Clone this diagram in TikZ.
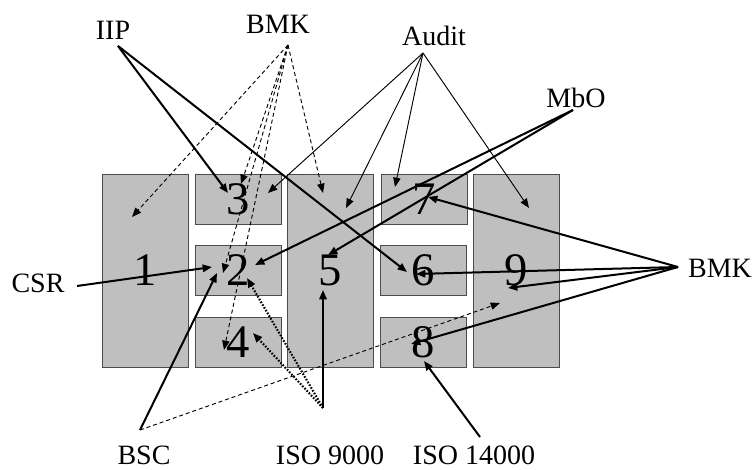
\documentclass[tikz,border=0pt]{standalone}
\usepackage{fontspec}
\setmainfont{Liberation Serif}
\usetikzlibrary{arrows.meta}
\begin{document}
\begin{tikzpicture}[
        x=0.75pt, y=-0.75pt,
        cell/.style={draw=black!70, fill=black!25, line width=0.6pt, inner sep=0pt, outer sep=0pt,
            minimum width=64.5pt, font=\fontsize{35}{40}\selectfont},
        small/.style={cell, minimum height=37.5pt},
        tall/.style={cell, minimum height=144.75pt},
        lbl/.style={inner sep=0pt, font=\fontsize{21}{25}\selectfont},
        tip/.style={-{Triangle[length=7pt, width=5.5pt]}},
        strong/.style={tip, line width=1.5pt},
        weak/.style={tip, line width=0.7pt},
        hint/.style={tip, line width=0.7pt, dash pattern=on 3pt off 2.2pt},
        dots/.style={tip, line width=1.6pt, dash pattern=on 1.2pt off 1.2pt}
    ]
    \useasboundingbox (0,0) rectangle (754,470);

    \node[tall]  (c1) at (145.5,270.5) {1};
    \node[small] (c3) at (238.5,199)   {3};
    \node[small] (c2) at (238,270)     {2};
    \node[small] (c4) at (238,342)     {4};
    \node[tall]  (c5) at (330.5,270.5) {5};
    \node[small] (c7) at (424,199)     {7};
    \node[small] (c6) at (423.5,270.5) {6};
    \node[small] (c8) at (423.5,342)   {8};
    \node[tall]  (c9) at (516,270.5)   {9};

    \node[lbl] (iip)   at (113,30)  {IIP};
    \node[lbl] (bmkup) at (278,24)  {BMK};
    \node[lbl] (audit) at (434,36)  {Audit};
    \node[lbl] (mbo)   at (576,98)  {MbO};
    \node[lbl] (csr)   at (38,283)  {CSR};
    \node[lbl] (bsc)   at (144,455) {BSC};
    \node[lbl] (isoa)  at (330,455) {ISO 9000};
    \node[lbl] (isob)  at (474,455) {ISO 14000};
    \node[lbl] (bmkrt) at (720,268) {BMK};

    \coordinate (iipo)   at (118,46);
    \coordinate (bmkupo) at (288,45);
    \coordinate (audito) at (423,53);
    \coordinate (mboo)   at (573,110);
    \coordinate (csro)   at (77,286);
    \coordinate (bsco)   at (140,430);
    \coordinate (isoao)  at (323,408);
    \coordinate (isobo)  at (480,437);
    \coordinate (bmkrto) at (678,267);

    \coordinate (in1)  at (132,217);
    \coordinate (in3a) at (228,193);
    \coordinate (in3b) at (241,184);
    \coordinate (in3c) at (268,193);
    \coordinate (in2a) at (212,267);
    \coordinate (in2b) at (217,273);
    \coordinate (in2c) at (223,273);
    \coordinate (in2d) at (255,265);
    \coordinate (in2e) at (247,278);
    \coordinate (in4a) at (224,350);
    \coordinate (in4b) at (253,333);
    \coordinate (in5a) at (323,193);
    \coordinate (in5b) at (346,208);
    \coordinate (in5c) at (328,255);
    \coordinate (in5d) at (323,290);
    \coordinate (in7a) at (395,187);
    \coordinate (in7b) at (428,197);
    \coordinate (in6a) at (407,272);
    \coordinate (in6b) at (416,274);
    \coordinate (in8a) at (411,344);
    \coordinate (in8b) at (424,361);
    \coordinate (in9a) at (529,208);
    \coordinate (in9b) at (508,288);
    \coordinate (in9c) at (500,303);

    \draw[strong] (iipo) -- (in3a);
    \draw[strong] (iipo) -- (in6a);

    \draw[hint] (bmkupo) -- (in1);
    \draw[hint] (bmkupo) -- (in3b);
    \draw[hint] (bmkupo) -- (in2c);
    \draw[hint] (bmkupo) -- (in4a);
    \draw[hint] (bmkupo) -- (in5a);

    \draw[weak] (audito) -- (in3c);
    \draw[weak] (audito) -- (in5b);
    \draw[weak] (audito) -- (in7a);
    \draw[weak] (audito) -- (in9a);

    \draw[strong] (mboo) -- (in2d);
    \draw[strong] (mboo) -- (in5c);

    \draw[strong] (csro) -- (in2a);

    \draw[strong] (bsco) -- (in2b);
    \draw[hint] (bsco) -- (in9c);

    \draw[strong] (isoao) -- (in5d);
    \draw[dots] (isoao) -- (in2e);
    \draw[dots] (isoao) -- (in4b);

    \draw[strong] (isobo) -- (in8b);

    \draw[strong] (bmkrto) -- (in7b);
    \draw[strong] (bmkrto) -- (in6b);
    \draw[strong] (bmkrto) -- (in9b);
    \draw[strong] (bmkrto) -- (in8a);
\end{tikzpicture}
\end{document}
